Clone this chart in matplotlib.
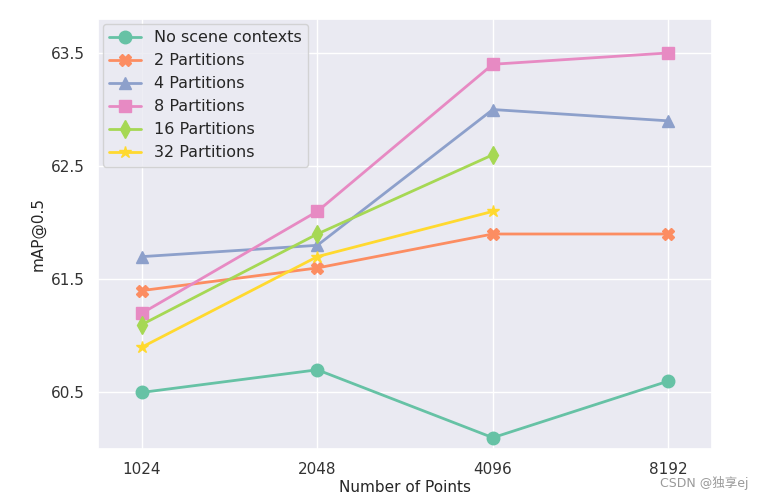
import matplotlib
matplotlib.use('Agg')
import matplotlib.pyplot as plt
import seaborn as sns

sns.set_theme(style='darkgrid', palette='Set2')
plt.rcParams['font.family'] = ['DejaVu Sans', 'Noto Sans CJK SC']

points = ['1024', '2048', '4096', '8192']
no_scene = [60.5, 60.7, 60.1, 60.6]
part2 = [61.4, 61.6, 61.9, 61.9]
part4 = [61.7, 61.8, 63.0, 62.9]
part8 = [61.2, 62.1, 63.4, 63.5]
part16 = [61.1, 61.9, 62.6]
part32 = [60.9, 61.7, 62.1]

series = [
    ('No scene contexts', no_scene, 'o'),
    ('2 Partitions', part2, 'X'),
    ('4 Partitions', part4, '^'),
    ('8 Partitions', part8, 's'),
    ('16 Partitions', part16, 'd'),
    ('32 Partitions', part32, '*'),
]

colors = sns.color_palette('Set2')

fig = plt.figure(figsize=(7.6, 5), dpi=100)
ax = fig.add_axes([0.129, 0.102, 0.808, 0.860])

for i, (label, vals, m) in enumerate(series):
    xs = list(range(len(vals)))
    ax.plot(xs, vals, marker=m, markersize=9, linewidth=2, color=colors[i], label=label)

ax.set_xticks(range(len(points)))
ax.set_xticklabels(points)
ax.set_xlim(-0.25, 3.25)
ax.set_ylim(60.0, 63.8)
ax.set_yticks([60.5, 61.5, 62.5, 63.5])
ax.set_xlabel('Number of Points', fontsize=11, labelpad=2)
ax.set_ylabel('mAP@0.5', fontsize=11)
ax.tick_params(labelsize=11, labelcolor='#333333')
ax.legend(loc='upper left', fontsize=11.5, borderaxespad=0.3)

fig.text(0.985, 0.02, 'CSDN @独享ej', ha='right', va='bottom', fontsize=9, color='#999999',
         family=['DejaVu Sans', 'Noto Sans CJK SC'])

fig.savefig('out.png', dpi=100)
